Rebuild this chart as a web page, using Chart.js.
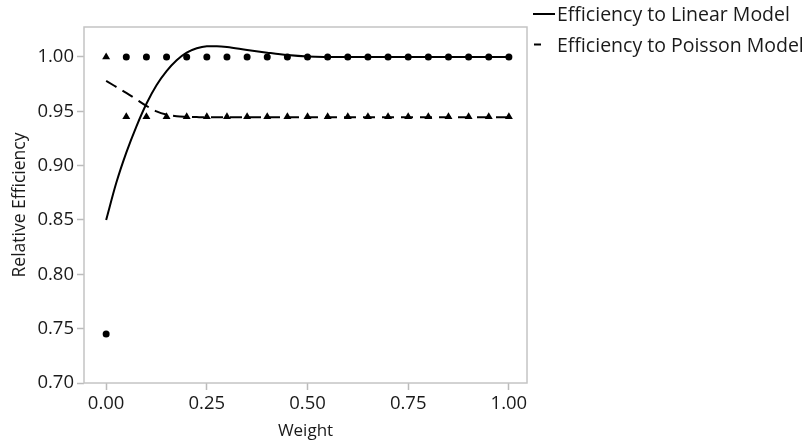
<!DOCTYPE html>
<html><head><meta charset="utf-8">
<script src="https://cdn.jsdelivr.net/npm/chart.js@4"></script>
<style>html,body{margin:0;padding:0;background:#fff}#wrap{width:810px;height:444px;position:relative}</style>
</head><body><div id="wrap"><canvas id="c" width="810" height="444"></canvas></div>
<script>
const seriesNames = ['Efficiency to Linear Model', 'Efficiency to Poisson Model'];
const weights = [0, 0.05, 0.10, 0.15, 0.20, 0.25, 0.30, 0.35, 0.40, 0.45, 0.50, 0.55, 0.60, 0.65, 0.70, 0.75, 0.80, 0.85, 0.90, 0.95, 1.00];
const linearPoints = [0.745, 1, 1, 1, 1, 1, 1, 1, 1, 1, 1, 1, 1, 1, 1, 1, 1, 1, 1, 1, 1];
const poissonPoints = [1.00, 0.945, 0.945, 0.945, 0.945, 0.945, 0.945, 0.945, 0.945, 0.945, 0.945, 0.945, 0.945, 0.945, 0.945, 0.945, 0.945, 0.945, 0.945, 0.945, 0.945];
const curveWeights = [0, 0.025, 0.05, 0.075, 0.10, 0.125, 0.15, 0.175, 0.20, 0.225, 0.25, 0.275, 0.30, 0.35, 0.40, 0.45, 0.50, 0.60, 0.70, 0.80, 0.90, 1.00];
const linearCurve = [0.850, 0.884, 0.912, 0.936, 0.957, 0.974, 0.987, 0.997, 1.004, 1.008, 1.0098, 1.0100, 1.0093, 1.0065, 1.0040, 1.0018, 1.0005, 1.000, 1.000, 1.000, 1.000, 1.000];
const poissonCurve = [0.978, 0.9725, 0.967, 0.961, 0.955, 0.950, 0.947, 0.9455, 0.945, 0.9447, 0.9445, 0.9445, 0.9445, 0.9445, 0.9445, 0.9445, 0.9445, 0.9445, 0.9445, 0.9445, 0.9445, 0.9445];
const xTicks = [0, 0.25, 0.50, 0.75, 1.00];
const yTicks = [0.70, 0.75, 0.80, 0.85, 0.90, 0.95, 1.00];

const FONT = '"Open Sans", "Noto Sans", sans-serif';
const TXT = '#1a1a1a';

const pair = (xs, ys) => xs.map((x, i) => ({x: x, y: ys[i]}));

const frame = {
  id: 'frame',
  afterDatasetsDraw(chart) {
    const a = chart.chartArea, ctx = chart.ctx;
    ctx.save();
    ctx.strokeStyle = '#c4c4c4';
    ctx.lineWidth = 1.5;
    ctx.strokeRect(a.left, a.top, a.right - a.left, a.bottom - a.top);
    ctx.restore();
  }
};
const legendPlugin = {
  id: 'sideLegend',
  afterDraw(chart) {
    const ctx = chart.ctx;
    ctx.save();
    ctx.font = '19.5px ' + FONT;
    ctx.fillStyle = TXT;
    ctx.textBaseline = 'middle';
    ctx.strokeStyle = '#000';
    ctx.lineWidth = 2;
    ctx.beginPath(); ctx.moveTo(533, 14); ctx.lineTo(555, 14); ctx.stroke();
    ctx.fillText(seriesNames[0], 557, 15);
    ctx.beginPath(); ctx.moveTo(534, 44.5); ctx.lineTo(541, 44.5); ctx.stroke();
    ctx.fillText(seriesNames[1], 557, 46);
    ctx.restore();
  }
};

new Chart(document.getElementById('c'), {
  type: 'scatter',
  data: {
    datasets: [
      { label: seriesNames[0] + ' curve', data: pair(curveWeights, linearCurve), showLine: true, borderColor: '#000', borderWidth: 2, pointRadius: 0, cubicInterpolationMode: 'monotone', fill: false },
      { label: seriesNames[1] + ' curve', data: pair(curveWeights, poissonCurve), showLine: true, borderColor: '#000', borderWidth: 2, borderDash: [12, 7], pointRadius: 0, cubicInterpolationMode: 'monotone', fill: false },
      { label: seriesNames[0], data: pair(weights, linearPoints), showLine: false, pointStyle: 'circle', pointRadius: 3.5, backgroundColor: '#000', borderColor: '#000', borderWidth: 0 },
      { label: seriesNames[1], data: pair(weights, poissonPoints), showLine: false, pointStyle: 'triangle', pointRadius: 4.6, backgroundColor: '#000', borderColor: '#000', borderWidth: 0 }
    ]
  },
  options: {
    responsive: false,
    animation: false,
    devicePixelRatio: 1,
    layout: { padding: { left: 0, right: 283, top: 27, bottom: 0 } },
    plugins: { legend: { display: false }, tooltip: { enabled: false } },
    scales: {
      x: {
        type: 'linear', min: -0.055, max: 1.045,
        afterBuildTicks: s => { s.ticks = xTicks.map(v => ({value: v})); },
        afterFit: s => { s.height = 61; },
        ticks: { callback: v => Number(v).toFixed(2), font: { family: FONT, size: 18.5 }, color: TXT, padding: 3, maxRotation: 0 },
        grid: { drawOnChartArea: false, tickLength: 7, color: '#bbb', tickWidth: 1.5 },
        border: { display: false },
        title: { display: true, text: 'Weight', font: { family: FONT, size: 17 }, color: TXT, padding: { top: 0, bottom: 3 } }
      },
      y: {
        type: 'linear', min: 0.70, max: 1.0276,
        afterBuildTicks: s => { s.ticks = yTicks.map(v => ({value: v})); },
        afterFit: s => { s.width = 84; },
        ticks: { callback: v => Number(v).toFixed(2), font: { family: FONT, size: 18.5 }, color: TXT, padding: 3 },
        grid: { drawOnChartArea: false, tickLength: 7, color: '#bbb', tickWidth: 1.5 },
        border: { display: false },
        title: { display: true, text: 'Relative Efficiency', font: { family: FONT, size: 17.5 }, color: TXT, padding: { top: 10, bottom: 0 } }
      }
    }
  },
  plugins: [frame, legendPlugin]
});
</script>
</body></html>
